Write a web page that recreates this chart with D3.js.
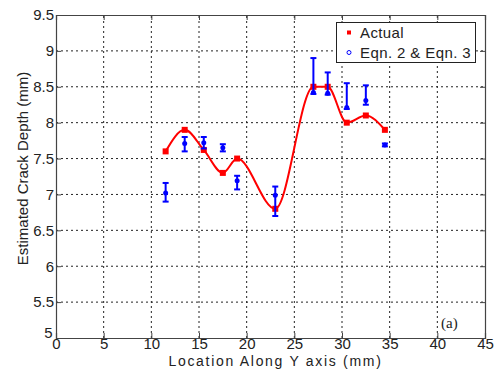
<!DOCTYPE html>
<html><head><meta charset="utf-8">
<script src="https://cdn.jsdelivr.net/npm/d3@7"></script>
<style>body{margin:0;background:#fff}svg{display:block}</style>
</head><body>
<script>
const locations = [11.5, 13.5, 15.5, 17.5, 19, 23, 27, 28.5, 30.5, 32.5, 34.5];
const actualDepth = [7.6, 7.9, 7.62, 7.3, 7.5, 6.8, 8.5, 8.5, 8.0, 8.1, 7.9];
const eqnDepth = [7.02, 7.71, 7.72, 7.65, 7.19, 6.99, 8.42, 8.41, 8.21, 8.31, 7.69];
const eqnErrLow = [0.12, 0.11, 0.08, 0.05, 0.12, 0.29, 0.02, 0.02, 0.02, 0.06, 0.02];
const eqnErrHigh = [0.14, 0.09, 0.08, 0.05, 0.07, 0.12, 0.48, 0.29, 0.34, 0.21, 0.02];
const xTicks = [0, 5, 10, 15, 20, 25, 30, 35, 40, 45];
const yTicks = [5, 5.5, 6, 6.5, 7, 7.5, 8, 8.5, 9, 9.5];
const legendLabels = ["Actual", "Eqn. 2 & Eqn. 3"];

const W = 494, H = 374;
const m = {left: 56, right: 9, top: 15, bottom: 36};
const svg = d3.select("body").append("svg").attr("width", W).attr("height", H);
const x = d3.scaleLinear().domain([0, 45]).range([m.left, W - m.right]);
const y = d3.scaleLinear().domain([5, 9.5]).range([H - m.bottom, m.top]);
const font = "'Liberation Sans', Arial, sans-serif";

// grid
const g = svg.append("g");
g.selectAll(".vg").data(xTicks.slice(1, -1)).join("line")
  .attr("x1", d => x(d)).attr("x2", d => x(d)).attr("y1", y(5)).attr("y2", y(9.5))
  .attr("stroke", "#222").attr("stroke-width", 1).attr("stroke-dasharray", "2,3");
g.selectAll(".hg").data(yTicks.slice(1, -1)).join("line")
  .attr("y1", d => y(d)).attr("y2", d => y(d)).attr("x1", x(0)).attr("x2", x(45))
  .attr("stroke", "#222").attr("stroke-width", 1).attr("stroke-dasharray", "2,3");

// axes
const xb = svg.append("g").attr("transform", `translate(0,${y(5)})`)
  .call(d3.axisBottom(x).tickValues(xTicks).tickSize(-5).tickPadding(0).tickFormat(d3.format("d")));
const xt = svg.append("g").attr("transform", `translate(0,${y(9.5)})`)
  .call(d3.axisTop(x).tickValues(xTicks).tickSize(-5).tickFormat(""));
const yl = svg.append("g").attr("transform", `translate(${x(0)},0)`)
  .call(d3.axisLeft(y).tickValues(yTicks).tickSize(-5).tickPadding(2).tickFormat(d => d3.format("")(d)));
const yr = svg.append("g").attr("transform", `translate(${x(45)},0)`)
  .call(d3.axisRight(y).tickValues(yTicks).tickSize(-5).tickFormat(""));
[xb, xt, yl, yr].forEach(a => {
  a.select(".domain").attr("stroke", "#444").attr("stroke-width", 1.2);
  a.selectAll(".tick line").attr("stroke", "#444");
  a.selectAll("text").attr("font-family", font).attr("font-size", 15).attr("fill", "#222");
});
yl.selectAll(".tick text").filter(d => d === 5).attr("dy", "-0.05em").attr("dx", "-1.5");

// axis labels
svg.append("text").attr("x", (x(0) + x(45)) / 2 + 5).attr("y", 366).attr("text-anchor", "middle")
  .attr("font-family", font).attr("font-size", 14).attr("letter-spacing", 1.7).attr("fill", "#222")
  .text("Location Along Y axis (mm)");
svg.append("text").attr("transform", `translate(28,${(y(5) + y(9.5)) / 2 - 8}) rotate(-90)`)
  .attr("text-anchor", "middle").attr("font-family", font).attr("font-size", 15).attr("fill", "#222")
  .text("Estimated Crack Depth (mm)");

// actual curve
const pts = locations.map((d, i) => [d, actualDepth[i]]);
svg.append("path").datum(pts)
  .attr("d", d3.line().x(d => x(d[0])).y(d => y(d[1])).curve(d3.curveMonotoneX))
  .attr("fill", "none").attr("stroke", "#f00").attr("stroke-width", 2);
svg.selectAll(".act").data(pts).join("rect")
  .attr("x", d => x(d[0]) - 3).attr("y", d => y(d[1]) - 3).attr("width", 6).attr("height", 6)
  .attr("fill", "#f00");

// eqn error bars
const eq = locations.map((d, i) => ({x: d, v: eqnDepth[i], lo: eqnDepth[i] - eqnErrLow[i], hi: eqnDepth[i] + eqnErrHigh[i]}));
const eg = svg.append("g").attr("stroke", "#00f").attr("stroke-width", 2);
eg.selectAll(".ev").data(eq).join("line")
  .attr("x1", d => x(d.x)).attr("x2", d => x(d.x)).attr("y1", d => y(d.lo)).attr("y2", d => y(d.hi));
eg.selectAll(".et").data(eq).join("line")
  .attr("x1", d => x(d.x) - 3).attr("x2", d => x(d.x) + 3).attr("y1", d => y(d.hi)).attr("y2", d => y(d.hi));
eg.selectAll(".eb").data(eq).join("line")
  .attr("x1", d => x(d.x) - 3).attr("x2", d => x(d.x) + 3).attr("y1", d => y(d.lo)).attr("y2", d => y(d.lo));
svg.selectAll(".ed").data(eq).join("circle")
  .attr("cx", d => x(d.x)).attr("cy", d => y(d.v)).attr("r", 2.5).attr("fill", "#00f");

// legend
const lg = svg.append("g");
lg.append("rect").attr("x", 336.5).attr("y", 22.5).attr("width", 139).attr("height", 40)
  .attr("fill", "#fff").attr("stroke", "#222").attr("stroke-width", 1);
lg.append("rect").attr("x", 347).attr("y", 30.5).attr("width", 4).attr("height", 4).attr("fill", "#f00");
lg.append("circle").attr("cx", 349).attr("cy", 52.5).attr("r", 2).attr("fill", "none").attr("stroke", "#00f").attr("stroke-width", 1);
lg.selectAll(".lt").data(legendLabels).join("text")
  .attr("x", 360).attr("y", (d, i) => 38 + i * 20)
  .attr("font-family", font).attr("font-size", 15).attr("letter-spacing", 0.4).attr("fill", "#222").text(d => d);

// panel label
svg.append("text").attr("x", 441).attr("y", 328).attr("font-family", "'Liberation Serif', 'Times New Roman', serif")
  .attr("font-size", 15).attr("fill", "#222").text("(a)");
</script>
</body></html>
